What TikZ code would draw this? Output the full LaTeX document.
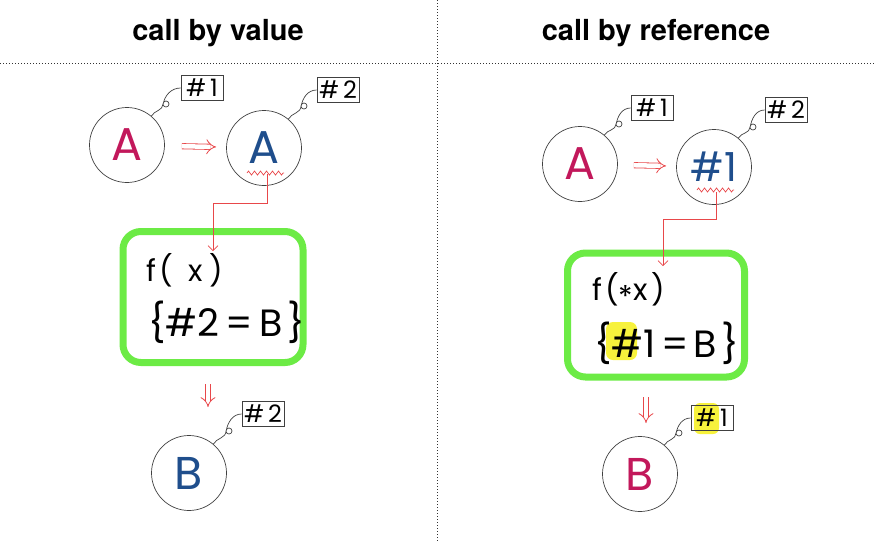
\documentclass[tikz,border=0pt]{standalone}
\usepackage{fontspec}
\newfontfamily\handfont{Poppins}
\newfontfamily\headfont{TeX Gyre Heros}
\usetikzlibrary{arrows.meta,positioning,decorations.pathmorphing,calc}
\definecolor{inkpink}{HTML}{C2185B}
\definecolor{inkblue}{HTML}{1F4E8C}
\definecolor{inkred}{HTML}{E8474A}
\definecolor{boxgreen}{HTML}{6CEB45}
\definecolor{marker}{HTML}{F7F23C}
\tikzset{
  var/.style={circle,draw=black!75,line width=0.7pt,minimum size=75pt,inner sep=0pt,font=\handfont\fontsize{46}{46}\selectfont},
  addr/.style={draw=black!75,line width=0.7pt,minimum width=42pt,minimum height=25pt,inner sep=0pt,font=\handfont\fontsize{24}{24}\selectfont},
  curl/.style={black!75,line width=0.7pt},
  funcbox/.style={draw=boxgreen,line width=7pt,rounded corners=18pt},
  codeline/.style={anchor=west,inner sep=0pt,font=\handfont\fontsize{30}{30}\selectfont},
  codebody/.style={anchor=west,inner sep=0pt,font=\handfont\fontsize{38}{38}\selectfont},
  wire/.style={inkred,line width=0.7pt},
  squiggle/.style={inkred,line width=0.7pt,decorate,decoration={zigzag,amplitude=2pt,segment length=6pt}},
  pass/.style={inkred,line width=0.8pt,double,double distance=4.5pt,-{Implies}},
  divider/.style={black!80,line width=0.6pt,dash pattern=on 1pt off 2pt},
  title/.style={font=\headfont\bfseries\fontsize{29}{29}\selectfont}
}
\begin{document}
\begin{tikzpicture}[x=1pt,y=1pt]
\useasboundingbox (0,0) rectangle (876,-542);
% dividers and titles
\draw[divider] (437,0) -- (437,-542);
\draw[divider] (0,-63) -- (876,-63);
\node[title] (tval) at (218,-33) {call by value};
\node[title] (tref) at (656,-33) {call by reference};
% panel 1 call by value
\node[var,text=inkpink] (a1) at (127,-145) {A};
\node[var,text=inkblue] (a2) at (264,-148) {A};
\node[addr] (t1) at (202,-88) {\#\,1};
\node[addr] (t2) at (338,-90) {\#\,2};
\draw[curl] (a1.50) to[out=60,in=-90] (163,-104) arc[start angle=180,end angle=-170,radius=3] to[out=80,in=180] (t1.west);
\draw[curl] (a2.50) to[out=60,in=-90] (301,-106) arc[start angle=180,end angle=-170,radius=3] to[out=80,in=180] (t2.west);
\draw[pass,shorten <=17pt,shorten >=10pt] (a1) -- (a2);
\draw[squiggle] (247,-173) -- (284,-173);
\node[funcbox,minimum width=180pt,minimum height=131pt] (f1) at (213,-297) {};
\coordinate (in1) at (213,-251);
\draw[wire,-{Straight Barb[length=5pt]}] (267,-174) |- (213,-203) -- (in1);
\node[codeline] (c1) at (146,-270) {f\kern3pt(\kern16pt x\kern6pt)};
\node[codebody] (d1) at (148,-322) {\{\#2\,=\,B\kern5pt\}};
\node[var,text=inkblue] (b1) at (189,-473) {B};
\node[addr] (t3) at (263,-414) {\#\,2};
\draw[curl] (b1.50) to[out=60,in=-90] (226,-431) arc[start angle=180,end angle=-170,radius=3] to[out=80,in=180] (t3.west);
\draw[pass] (208,-384) -- (208,-407);
% panel 2 call by reference
\node[var,text=inkpink] (a3) at (580,-164) {A};
\node[var,text=inkblue,font=\handfont\fontsize{40}{40}\selectfont] (a4) at (714,-167) {\#1};
\node[addr] (t4) at (652,-108) {\#\,1};
\node[addr] (t5) at (786,-110) {\#\,2};
\draw[curl] (a3.50) to[out=60,in=-90] (616,-124) arc[start angle=180,end angle=-170,radius=3] to[out=80,in=180] (t4.west);
\draw[curl] (a4.50) to[out=60,in=-90] (750,-127) arc[start angle=180,end angle=-170,radius=3] to[out=80,in=180] (t5.west);
\draw[pass,shorten <=16pt,shorten >=10pt] (a3) -- (a4);
\draw[squiggle] (697,-190) -- (734,-190);
\node[funcbox,minimum width=177pt,minimum height=124pt] (f2) at (656,-315) {};
\coordinate (in2) at (663,-266);
\draw[wire,-{Straight Barb[length=5pt]}] (716,-192) |- (663,-219) -- (in2);
\fill[marker,rounded corners=7pt] (606,-322) rectangle (637,-360);
\node[codeline] (c2) at (592,-290) {f\kern3pt(\raisebox{-7pt}{*}x\kern4pt)};
\node[codebody] (d2) at (594,-343) {\{\#1\kern6pt=\kern4pt B\kern5pt\}};
\node[var,text=inkpink] (b2) at (640,-474) {B};
\fill[marker,rounded corners=6pt] (694,-403) rectangle (719,-434);
\node[addr] (t6) at (712,-418) {\#\,1};
\draw[curl] (b2.50) to[out=60,in=-90] (676,-433) arc[start angle=180,end angle=-170,radius=3] to[out=80,in=180] (t6.west);
\draw[pass] (646,-397) -- (646,-423);
\end{tikzpicture}
\end{document}
